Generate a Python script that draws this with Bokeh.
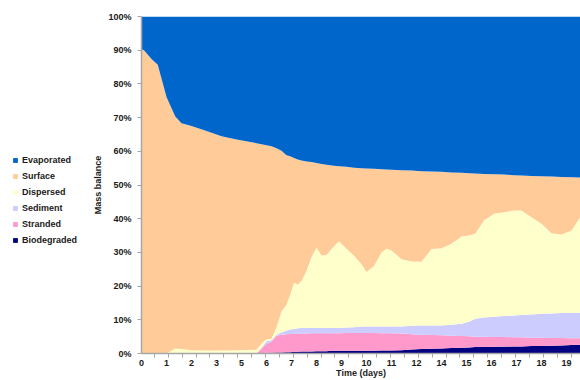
import numpy as np
from bokeh.plotting import figure
from bokeh.layouts import row
from bokeh.models import (ColumnDataSource, Range1d, FixedTicker, Legend, LegendItem)
from bokeh.embed import file_html
from bokeh.resources import INLINE

# position along the (category-like) time axis; tick label i sits at position i
x_pos = [0, 0.1, 0.4, 0.65, 1.0, 1.35, 1.6, 2.0, 2.6, 3.2, 3.8, 4.6, 4.8, 5.0, 5.2,
         5.4, 5.6, 5.8, 5.95, 6.1, 6.25, 6.4, 6.6, 6.8, 7.0, 7.2, 7.4, 7.6, 7.9, 8.2,
         8.5, 8.8, 9.0, 9.3, 9.6, 9.8, 10.0, 10.4, 10.8, 11.2, 11.6, 12.0, 12.4, 12.8,
         13.1, 13.35, 13.7, 14.1, 14.5, 14.9, 15.2, 15.6, 16.0, 16.4, 16.8, 17.2, 17.6]

biodegraded = [0, 0, 0, 0, 0, 0, 0, 0, 0, 0, 0, 0, 0, 0.2, 0.2,
               0.3, 0.3, 0.4, 0.4, 0.5, 0.5, 0.6, 0.6, 0.6, 0.7, 0.7, 0.7, 0.8, 0.8, 0.8,
               0.8, 0.8, 0.8, 0.8, 0.9, 0.9, 0.9, 1.0, 1.2, 1.3, 1.4, 1.5, 1.6, 1.7,
               1.8, 1.9, 1.9, 2.0, 2.0, 2.1, 2.1, 2.2, 2.2, 2.3, 2.4, 2.5, 2.6]
stranded = [0, 0, 0, 0, 0, 0, 0, 0, 0, 0, 0, 0, 1.5, 2.6, 3.3,
            5.0, 5.3, 5.3, 5.4, 5.3, 5.4, 5.3, 5.3, 5.4, 5.3, 5.3, 5.3, 5.2, 5.2, 5.3,
            5.3, 5.3, 5.3, 5.3, 5.1, 5.1, 5.1, 4.9, 4.5, 4.3, 4.1, 3.9, 3.7, 3.5,
            3.3, 3.1, 3.1, 2.9, 2.9, 2.7, 2.7, 2.5, 2.5, 2.3, 2.2, 2.0, 1.9]
sediment = [0, 0, 0, 0, 0, 0, 0, 0, 0, 0, 0, 0, 0.1, 0.8, 0.4,
            0.3, 0.6, 1.1, 1.3, 1.5, 1.6, 1.7, 1.7, 1.6, 1.6, 1.6, 1.6, 1.6, 1.6, 1.6,
            1.7, 1.9, 1.9, 1.9, 2.0, 2.0, 2.0, 2.1, 2.5, 2.7, 2.8, 2.9, 3.2, 3.6,
            4.3, 5.3, 5.7, 6.0, 6.2, 6.5, 6.6, 6.9, 7.1, 7.3, 7.4, 7.55, 7.6]
dispersed = [0, 0, 0, 0, 0, 1.5, 1.3, 1.0, 0.9, 0.9, 1.0, 1.1, 1.4, 0.6, 0.5,
             2.2, 6.3, 7.7, 10.4, 13.7, 13.0, 13.9, 16.9, 21.0, 23.8, 21.5, 21.6, 23.4, 25.7, 23.4,
             21.2, 18.5, 16.2, 18.0, 22.0, 23.1, 22.6, 20.0, 19.1, 18.9, 22.7, 22.9, 24.1, 25.9,
             25.6, 25.2, 28.8, 30.6, 30.8, 31.1, 31.0, 28.8, 26.7, 23.8, 23.3, 24.45, 28.9]
surface = [90.3, 90.0, 87.4, 85.7, 76.1, 68.8, 67.0, 66.5, 65.1, 63.6, 62.5, 61.3, 59.1, 57.6, 57.1,
           53.1, 47.7, 44.3, 41.0, 37.0, 37.1, 35.8, 32.5, 28.2, 25.1, 27.1, 26.8, 24.8, 22.3, 24.3,
           26.1, 28.5, 30.7, 28.8, 24.7, 23.5, 23.9, 26.4, 27.0, 26.9, 23.0, 22.7, 21.1, 18.9,
           18.5, 17.9, 13.8, 11.7, 11.2, 10.5, 10.4, 12.3, 14.1, 16.8, 17.1, 15.8, 11.2]
evaporated = [9.7, 10.0, 12.6, 14.3, 23.9, 29.7, 31.7, 32.5, 34.0, 35.5, 36.5, 37.6, 37.9, 38.2, 38.5,
              39.1, 39.8, 41.2, 41.5, 42.0, 42.4, 42.7, 43.0, 43.2, 43.5, 43.8, 44.0, 44.2, 44.4, 44.6,
              44.9, 45.0, 45.1, 45.2, 45.3, 45.4, 45.5, 45.6, 45.7, 45.9, 46.0, 46.1, 46.3, 46.4,
              46.5, 46.6, 46.7, 46.8, 46.9, 47.1, 47.2, 47.3, 47.4, 47.5, 47.6, 47.7, 47.8]

series_names = ["Biodegraded", "Stranded", "Sediment", "Dispersed", "Surface", "Evaporated"]
series_colors = ["#000080", "#FF99CC", "#CCCCFF", "#FFFFCC", "#FFCC99", "#0066CC"]

x_tick_labels = ["0", "1", "2", "3", "5", "6", "7", "8", "9", "10", "11", "12",
                 "14", "15", "16", "17", "18", "19"]
y_ticks = [0, 10, 20, 30, 40, 50, 60, 70, 80, 90, 100]
y_tick_labels = ["0%", "10%", "20%", "30%", "40%", "50%", "60%", "70%", "80%", "90%", "100%"]

FONT = "Liberation Sans"
LEG_W = 90

# ---------- main chart ----------
p = figure(width=580 - LEG_W, height=380, output_backend="svg", toolbar_location=None,
           x_range=Range1d(0, 17.56), y_range=Range1d(0, 100),
           min_border_left=141 - LEG_W, min_border_right=0, min_border_top=16,
           min_border_bottom=0)
p.background_fill_color = "white"
p.border_fill_color = "white"
p.outline_line_color = None
p.xgrid.visible = False
p.ygrid.visible = False

source = ColumnDataSource(dict(x=x_pos, Biodegraded=biodegraded, Stranded=stranded,
                               Sediment=sediment, Dispersed=dispersed, Surface=surface,
                               Evaporated=evaporated))
renderers = p.varea_stack(stackers=series_names, x="x", color=series_colors, source=source)

xa = p.xaxis[0]
xa.ticker = FixedTicker(ticks=list(range(len(x_tick_labels))),
                        minor_ticks=[k * 5 / 9 - 0.04 for k in range(1, 32)])
xa.major_label_overrides = {i: t for i, t in enumerate(x_tick_labels)}
xa.major_tick_line_color = None
xa.major_tick_out = 4
xa.major_tick_in = 0
xa.minor_tick_line_color = "#a6a6a6"
xa.minor_tick_out = 4
xa.minor_tick_in = 0
xa.axis_line_color = "#a6a6a6"
xa.axis_line_width = 1.5
xa.major_label_standoff = 2
xa.axis_label = "Time (days)"
xa.axis_label_standoff = -1

ya = p.yaxis[0]
ya.ticker = FixedTicker(ticks=y_ticks, minor_ticks=[])
ya.major_label_overrides = {v: t for v, t in zip(y_ticks, y_tick_labels)}
ya.major_tick_line_color = "#a6a6a6"
ya.major_tick_out = 4
ya.major_tick_in = 0
ya.minor_tick_line_color = None
ya.axis_line_color = "#a6a6a6"
ya.axis_line_width = 1.5
ya.major_label_standoff = 6
ya.axis_label = "Mass balance"
ya.axis_label_standoff = 2

for ax in (xa, ya):
    ax.major_label_text_font = FONT
    ax.major_label_text_font_style = "bold"
    ax.major_label_text_font_size = "9px"
    ax.major_label_text_color = "#1a1a1a"
    ax.axis_label_text_font = FONT
    ax.axis_label_text_font_style = "bold"
    ax.axis_label_text_font_size = "9px"
    ax.axis_label_text_color = "#1a1a1a"

# ---------- legend panel (left) ----------
leg = figure(width=LEG_W, height=380, output_backend="svg", toolbar_location=None,
             x_range=Range1d(0, 1), y_range=Range1d(0, 1),
             x_axis_type=None, y_axis_type=None,
             min_border_left=0, min_border_right=0, min_border_top=0, min_border_bottom=0)
leg.outline_line_color = None
leg.xgrid.visible = False
leg.ygrid.visible = False
swatches = [leg.varea(x=[0, 0], y1=[0, 0], y2=[0, 0], fill_color=c) for c in series_colors]
items = [LegendItem(label=n, renderers=[r]) for n, r in zip(series_names, swatches)][::-1]
legend = Legend(items=items, location=(12, 108), orientation="vertical",
                glyph_width=6, glyph_height=6, label_standoff=4, padding=0, margin=0,
                spacing=5, label_height=11, label_text_font=FONT,
                label_text_font_style="bold", label_text_font_size="9px",
                label_text_color="#1a1a1a", border_line_color=None,
                background_fill_alpha=0)
leg.add_layout(legend, "center")

layout = row(leg, p, spacing=0)
open("out.html", "w").write(file_html(layout, INLINE))
